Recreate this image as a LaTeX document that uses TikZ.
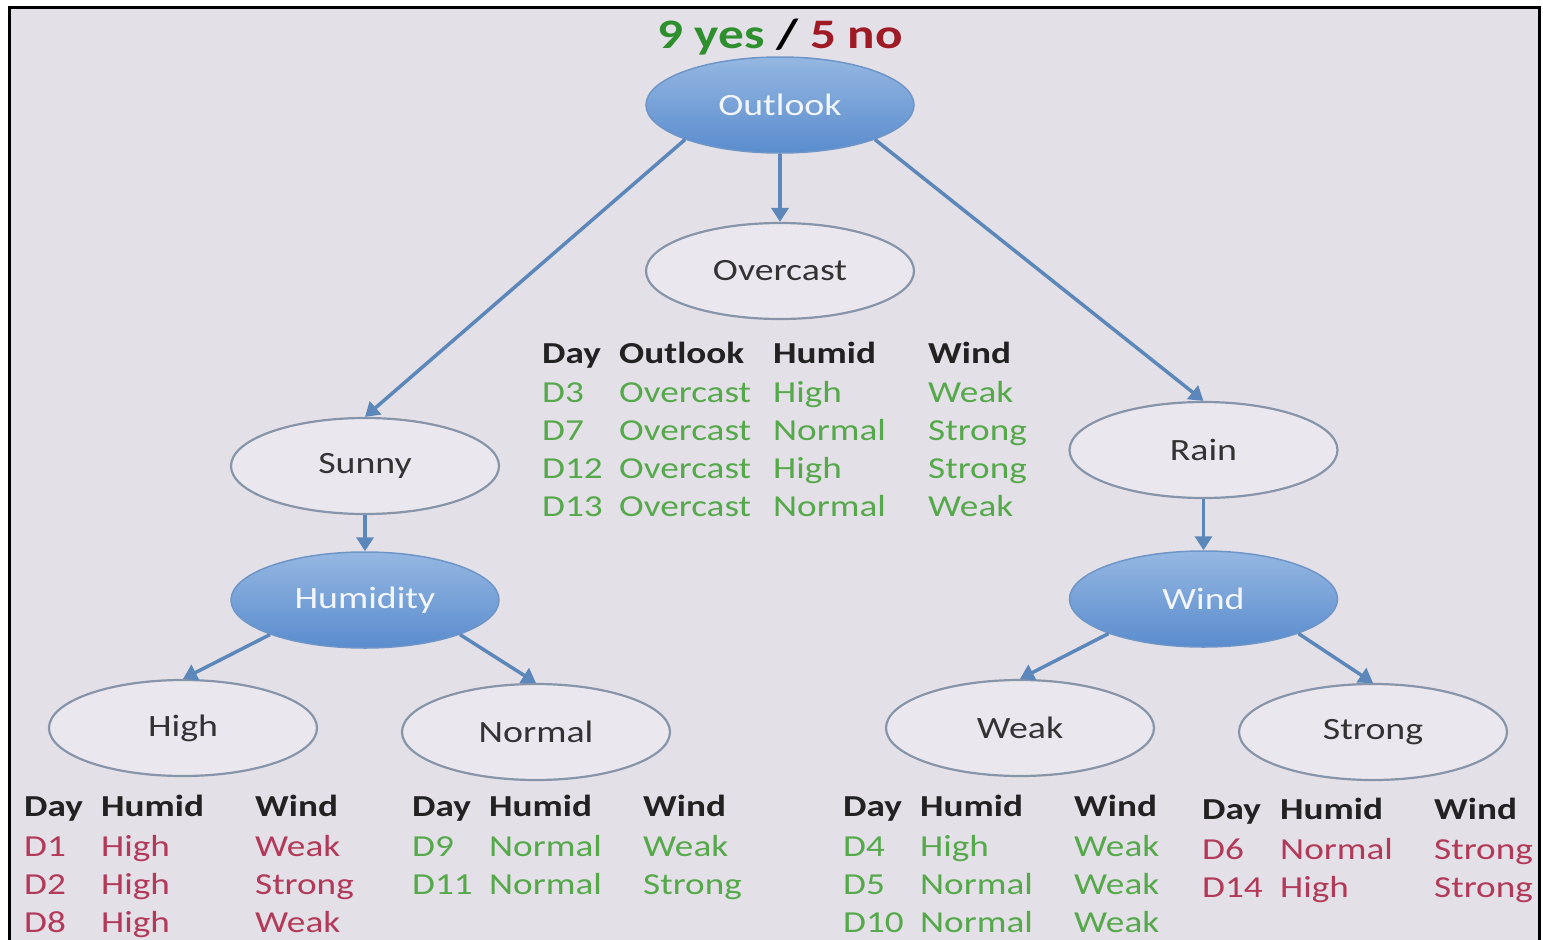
\documentclass[tikz,border=0pt]{standalone}
\usepackage{fontspec}
\setmainfont{Carlito}[FakeStretch=1.22]
\usetikzlibrary{shapes.geometric,arrows.meta}

\definecolor{slidebg}{HTML}{E4E0E7}
\definecolor{yesgreen}{HTML}{2E8F2E}
\definecolor{nored}{HTML}{9E1B26}
\definecolor{rowgreen}{HTML}{55A94B}
\definecolor{rowred}{HTML}{B23A58}
\definecolor{headgray}{HTML}{222222}
\definecolor{edgeblue}{HTML}{5B87BA}
\definecolor{nodetop}{HTML}{95B7E2}
\definecolor{nodebot}{HTML}{5A8CCD}
\definecolor{nodeline}{HTML}{6E95C8}
\definecolor{leafline}{HTML}{8795AA}
\definecolor{leaffill}{HTML}{EAE8EE}

\tikzset{
  x=1pt, y=-1pt,
  txt/.style={font=\fontsize{31}{36}\selectfont},
  attr/.style={txt, shape=ellipse, minimum width=268, minimum height=96, inner sep=0,
    draw=nodeline, line width=1.5, top color=nodetop, bottom color=nodebot,
    text=white!88!nodetop},
  leaf/.style={txt, shape=ellipse, minimum width=268, minimum height=96, inner sep=0,
    draw=leafline, line width=2.2, fill=leaffill, text=black!80},
  edge/.style={draw=edgeblue, line width=3.5,
    -{Triangle[length=14,width=17]}},
  cell/.style={font=\fontsize{30.5}{36}\selectfont, anchor=base west, inner sep=0},
  head/.style={cell, font=\fontsize{30.5}{36}\selectfont\bfseries, text=headgray},
  good/.style={cell, text=rowgreen},
  bad/.style={cell, text=rowred},
}

\begin{document}
\begin{tikzpicture}
  \useasboundingbox (0,0) rectangle (1543,940);
  \fill[white] (0,0) rectangle (1543,940);
  \begin{scope}
    \clip (0,0) rectangle (1543,940);
    \draw[line width=3, fill=slidebg] (9.5,7.5) rectangle (1539.5,980);
  \end{scope}

  % heading over the root
  \node[anchor=base, inner sep=0, font=\fontsize{42}{48}\selectfont\bfseries] (title) at (780,48)
    {\textcolor{yesgreen}{9 yes} / \textcolor{nored}{5 no}};

  % tree nodes
  \node[attr] (outlook) at (780,105) {Outlook};
  \node[leaf] (overcast) at (780,271) {Overcast};
  \node[leaf] (sunny) at (365,466) {Sunny};
  \node[attr] (humidity) at (365,600) {Humidity};
  \node[leaf] (rain) at (1203.5,450) {Rain};
  \node[attr] (wind) at (1203.5,599) {Wind};
  \node[leaf] (high) at (183,728) {High};
  \node[leaf] (normal) at (536,732) {Normal};
  \node[leaf] (weak) at (1020,728) {Weak};
  \node[leaf] (strong) at (1373,732) {Strong};

  % branches
  \draw[edge] (outlook.200) -- (sunny.north);
  \draw[edge] (outlook.south) -- (overcast.north);
  \draw[edge] (outlook.-20) -- (rain.north);
  \draw[edge] (sunny.south) -- (humidity.north);
  \draw[edge] (rain.south) -- (wind.north);
  \draw[edge] (humidity.200) -- (high.north);
  \draw[edge] (humidity.-20) -- (normal.north);
  \draw[edge] (wind.200) -- (weak.north);
  \draw[edge] (wind.-20) -- (strong.north);

  % Overcast subset
  \foreach \x/\t [count=\i] in {542/Day,619/Outlook,773/Humid,928/Wind}
    \node[head] (ov-h\i) at (\x,363) {\t};
  \foreach \y/\a/\b/\c/\d [count=\r] in {402/D3/Overcast/High/Weak,440/D7/Overcast/Normal/Strong,
      478/D12/Overcast/High/Strong,516/D13/Overcast/Normal/Weak} {
    \node[good] (ov-\r-1) at (542,\y) {\a};
    \node[good] (ov-\r-2) at (619,\y) {\b};
    \node[good] (ov-\r-3) at (773,\y) {\c};
    \node[good] (ov-\r-4) at (928,\y) {\d};
  }

  % Sunny / High humidity subset
  \foreach \x/\t [count=\i] in {24/Day,101/Humid,255/Wind}
    \node[head] (hi-h\i) at (\x,816) {\t};
  \foreach \y/\a/\b/\c [count=\r] in {856/D1/High/Weak,894/D2/High/Strong,932/D8/High/Weak} {
    \node[bad] (hi-\r-1) at (24,\y) {\a};
    \node[bad] (hi-\r-2) at (101,\y) {\b};
    \node[bad] (hi-\r-3) at (255,\y) {\c};
  }

  % Sunny / Normal humidity subset
  \foreach \x/\t [count=\i] in {412/Day,489/Humid,643/Wind}
    \node[head] (no-h\i) at (\x,816) {\t};
  \foreach \y/\a/\b/\c [count=\r] in {856/D9/Normal/Weak,894/D11/Normal/Strong} {
    \node[good] (no-\r-1) at (412,\y) {\a};
    \node[good] (no-\r-2) at (489,\y) {\b};
    \node[good] (no-\r-3) at (643,\y) {\c};
  }

  % Rain / Weak wind subset
  \foreach \x/\t [count=\i] in {843/Day,920/Humid,1074/Wind}
    \node[head] (wk-h\i) at (\x,816) {\t};
  \foreach \y/\a/\b/\c [count=\r] in {856/D4/High/Weak,894/D5/Normal/Weak,932/D10/Normal/Weak} {
    \node[good] (wk-\r-1) at (843,\y) {\a};
    \node[good] (wk-\r-2) at (920,\y) {\b};
    \node[good] (wk-\r-3) at (1074,\y) {\c};
  }

  % Rain / Strong wind subset
  \foreach \x/\t [count=\i] in {1202/Day,1280/Humid,1434/Wind}
    \node[head] (st-h\i) at (\x,819) {\t};
  \foreach \y/\a/\b/\c [count=\r] in {859/D6/Normal/Strong,897/D14/High/Strong} {
    \node[bad] (st-\r-1) at (1202,\y) {\a};
    \node[bad] (st-\r-2) at (1280,\y) {\b};
    \node[bad] (st-\r-3) at (1434,\y) {\c};
  }
\end{tikzpicture}
\end{document}
